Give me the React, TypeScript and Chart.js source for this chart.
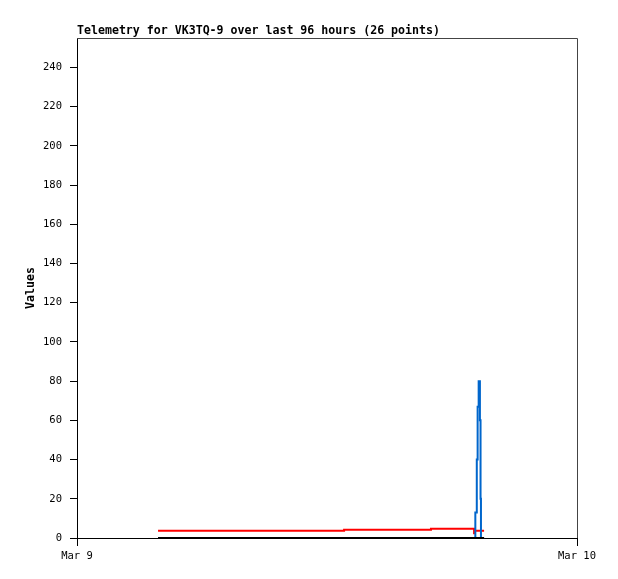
import React, { useEffect, useRef } from "react";
import { Chart, registerables } from "chart.js";
Chart.register(...registerables);

const TITLE = "Telemetry for VK3TQ-9 over last 96 hours (26 points)";
const Y_LABEL = "Values";
const X_TICK_HOURS = [0, 24];
const X_TICK_LABELS = ["Mar 9", "Mar 10"];
const Y_TICKS = [0, 20, 40, 60, 80, 100, 120, 140, 160, 180, 200, 220, 240];
const Y_MAX = 255;

// hours after Mar 9 00:00
const redHours = [3.89, 12.82, 16.99, 19.06, 19.1, 19.54];
const redValues = [3.7, 4.2, 4.7, 2.4, 3.7, 3.7];
const blueHours = [3.89, 19.12, 19.19, 19.23, 19.28, 19.34, 19.37, 19.39, 19.54];
const blueValues = [0, 13, 40, 67, 80, 60, 20, 0, 0];
const blackHours = [3.89, 19.54];
const blackValues = [0, 0];

const MONO = '"DejaVu Sans Mono", "Liberation Mono", monospace';

const zip = (xs: number[], ys: number[]) => xs.map((x, i) => ({ x, y: ys[i] }));

const decorPlugin = {
  id: "decor",
  afterDraw(chart: any) {
    const { ctx, chartArea } = chart;
    ctx.save();
    ctx.strokeStyle = "#444";
    ctx.lineWidth = 1;
    ctx.beginPath();
    ctx.moveTo(chartArea.left, chartArea.top + 0.5);
    ctx.lineTo(chartArea.right + 0.5, chartArea.top + 0.5);
    ctx.lineTo(chartArea.right + 0.5, chartArea.bottom);
    ctx.stroke();
    ctx.fillStyle = "#000";
    ctx.font = `bold 11.6px ${MONO}`;
    ctx.textBaseline = "middle";
    ctx.textAlign = "left";
    ctx.fillText(TITLE, chartArea.left, 31);
    ctx.translate(31, (chartArea.top + chartArea.bottom) / 2);
    ctx.rotate(-Math.PI / 2);
    ctx.textAlign = "center";
    ctx.fillText(Y_LABEL, 0, 0);
    ctx.restore();
  },
};

export default function App() {
  const ref = useRef<HTMLCanvasElement>(null);
  useEffect(() => {
    if (!ref.current) return;
    const chart = new Chart(ref.current, {
      type: "line",
      data: {
        datasets: [
          { data: zip(blackHours, blackValues), borderColor: "#000000", borderWidth: 2, pointRadius: 0, stepped: "before", clip: false },
          { data: zip(blueHours, blueValues), borderColor: "#0066cc", borderWidth: 2, pointRadius: 0, stepped: "before", clip: false },
          { data: zip(redHours, redValues), borderColor: "#ff0000", borderWidth: 2, pointRadius: 0, stepped: "before", clip: false },
        ],
      },
      options: {
        responsive: false,
        animation: false,
        devicePixelRatio: 1,
        layout: { padding: { top: 38, right: 41, left: 0, bottom: 0 } },
        plugins: { legend: { display: false }, title: { display: false }, tooltip: { enabled: false } },
        scales: {
          x: {
            type: "linear",
            min: 0,
            max: 24,
            afterBuildTicks: (s: any) => {
              s.ticks = X_TICK_HOURS.map((v) => ({ value: v }));
            },
            afterFit: (s: any) => {
              s.height = 41;
            },
            grid: { display: true, drawOnChartArea: false, drawTicks: true, tickLength: 8, color: "#000" },
            border: { display: true, color: "#000", width: 1 },
            ticks: {
              autoSkip: false,
              maxRotation: 0,
              padding: 4,
              color: "#000",
              font: { family: MONO, size: 10.5 },
              callback: (v: any) => {
                const i = X_TICK_HOURS.indexOf(Number(v));
                return i >= 0 ? X_TICK_LABELS[i] : "";
              },
            },
          },
          y: {
            min: 0,
            max: Y_MAX,
            afterBuildTicks: (s: any) => {
              s.ticks = Y_TICKS.map((v) => ({ value: v }));
            },
            afterFit: (s: any) => {
              s.width = 77;
            },
            grid: { display: true, drawOnChartArea: false, drawTicks: true, tickLength: 7, color: "#000" },
            border: { display: true, color: "#000", width: 1 },
            ticks: { padding: 8, color: "#000", font: { family: MONO, size: 10.5 } },
          },
        },
      },
      plugins: [decorPlugin],
    });
    return () => chart.destroy();
  }, []);
  return (
    <div style={{ position: "fixed", left: 0, top: 0, width: 618, height: 579, background: "#fff" }}>
      <canvas ref={ref} width={618} height={579} style={{ display: "block" }} />
    </div>
  );
}
